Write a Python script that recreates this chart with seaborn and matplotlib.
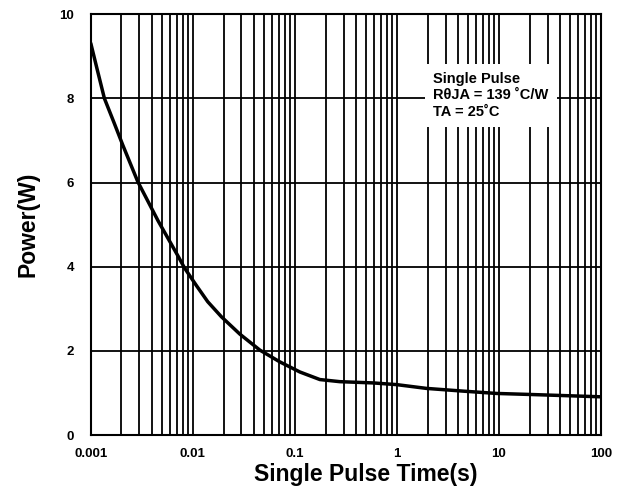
import matplotlib
matplotlib.use('Agg')
import matplotlib.pyplot as plt
import seaborn as sns
import pandas as pd
from matplotlib.ticker import LogLocator, FixedLocator

# Values
pulse_time = [0.001, 0.00115, 0.00136, 0.00168, 0.00206, 0.00289, 0.00457,
              0.00573, 0.00718, 0.0083, 0.01087, 0.014, 0.0191, 0.0289,
              0.0454, 0.0713, 0.112, 0.176, 0.276, 0.586, 0.993, 1.95,
              4.47, 9.5, 20.1, 100.0]
power = [9.31, 8.71, 8.0, 7.44, 6.89, 6.02, 5.09,
         4.67, 4.25, 3.97, 3.55, 3.17, 2.81, 2.40,
         2.02, 1.74, 1.50, 1.32, 1.27, 1.24, 1.20, 1.11,
         1.045, 0.99, 0.966, 0.91]

x_ticks = [0.001, 0.01, 0.1, 1, 10, 100]
x_tick_labels = ['0.001', '0.01', '0.1', '1', '10', '100']
y_ticks = [0, 2, 4, 6, 8, 10]

note = 'Single Pulse\nR\u03b8JA = 139 \u02daC/W\nTA = 25\u02daC'

df = pd.DataFrame({'time': pulse_time, 'power': power})

sns.set_style('white')
plt.rcParams['font.family'] = ['Liberation Sans', 'DejaVu Sans']
plt.rcParams['font.weight'] = 'bold'
plt.rcParams['text.color'] = 'black'
plt.rcParams['axes.labelcolor'] = 'black'
plt.rcParams['xtick.color'] = 'black'
plt.rcParams['ytick.color'] = 'black'

fig = plt.figure(figsize=(6.26, 4.9), dpi=100)
ax = fig.add_axes([0.145, 0.112, 0.815, 0.859])

sns.lineplot(data=df, x='time', y='power', color='black', linewidth=2.5, ax=ax)

ax.set_xscale('log')
ax.set_xlim(0.001, 100)
ax.set_ylim(0, 10)

ax.xaxis.set_major_locator(FixedLocator(x_ticks))
ax.xaxis.set_minor_locator(LogLocator(base=10, subs=range(2, 10)))
ax.set_xticks(x_ticks)
ax.set_xticklabels(x_tick_labels)
ax.set_yticks(y_ticks)
ax.tick_params(which='both', length=0, labelsize=9.5)
ax.tick_params(axis='x', pad=9)
ax.tick_params(axis='y', pad=12)
for lab in ax.get_xticklabels() + ax.get_yticklabels():
    lab.set_fontweight('bold')

ax.grid(which='major', axis='both', color='black', linewidth=1.3)
ax.grid(which='minor', axis='x', color='black', linewidth=1.3)
ax.set_axisbelow(True)
for sp in ax.spines.values():
    sp.set_color('black')
    sp.set_linewidth(1.5)

ax.set_xlabel('Single Pulse Time(s)', fontsize=16.5, fontweight='bold')
ax.xaxis.set_label_coords(0.539, -0.066)
ax.set_ylabel('Power(W)', fontsize=16.5, fontweight='bold')
ax.yaxis.set_label_coords(-0.1, 0.5)

ax.text(0.671, 0.862, note, transform=ax.transAxes, fontsize=10.5, fontweight='bold',
        va='top', ha='left', linespacing=1.2, zorder=5,
        bbox=dict(facecolor='white', edgecolor='none', pad=6))

fig.savefig('out.png', dpi=100)
plt.close(fig)
